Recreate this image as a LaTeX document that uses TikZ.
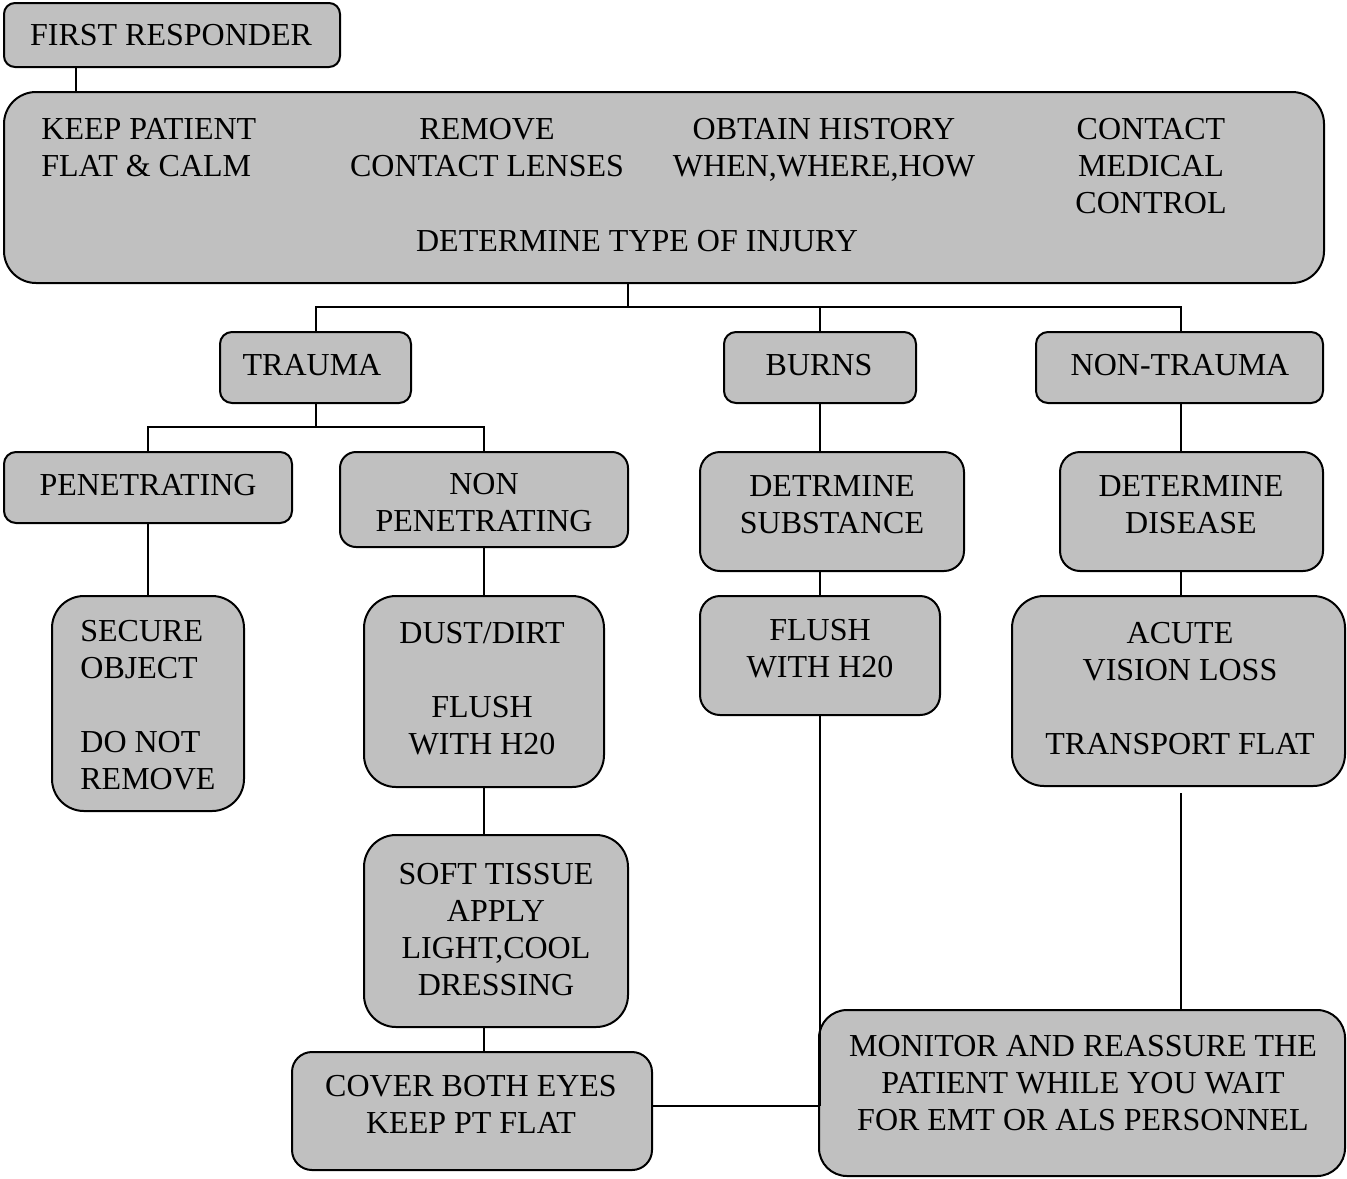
\documentclass[tikz,border=0pt]{standalone}
\usepackage{fontspec}
\setmainfont{Liberation Serif}
\definecolor{boxgray}{HTML}{C0C0C0}
\tikzset{
  box/.style={draw=black, fill=boxgray, line width=1pt, inner sep=0pt},
  txt/.style={inner sep=0pt, font=\fontsize{16}{18.5}\selectfont, align=center},
  conn/.style={draw=black, line width=1pt},
}
\newcommand\mybox[6]{\node[box, minimum width={(#4-#2)*0.5pt}, minimum height={(#5-#3)*0.5pt}, rounded corners={#6*0.5pt}] (#1) at ({(#2+#4)/2},{(#3+#5)/2}) {};}
\begin{document}
\begin{tikzpicture}[x=0.5pt,y=-0.5pt]
\useasboundingbox (0,0) rectangle (1347,1178);
% boxes
\mybox{fr}{4}{3}{340}{67}{11}
\mybox{big}{4}{92}{1324}{283}{32}
\mybox{trauma}{220}{332}{411}{403}{12}
\mybox{burns}{724}{332}{916}{403}{12}
\mybox{nontrauma}{1036}{332}{1323}{403}{12}
\mybox{pen}{4}{452}{292}{523}{12}
\mybox{nonpen}{340}{452}{628}{547}{16}
\mybox{detsub}{700}{452}{964}{571}{20}
\mybox{detdis}{1060}{452}{1323}{571}{20}
\mybox{secure}{52}{596}{244}{811}{32}
\mybox{dust}{364}{596}{604}{787}{32}
\mybox{flush}{700}{596}{940}{715}{20}
\mybox{acute}{1012}{596}{1345}{786}{32}
\mybox{soft}{364}{835}{628}{1027}{32}
\mybox{cover}{292}{1052}{652}{1170}{20}
\mybox{monitor}{819}{1010}{1345}{1176}{28}
% texts
\node[txt] (t-fr) at (171,35) {FIRST RESPONDER};
\node[txt, align=left, anchor=west] (t-keep) at (41,147.5) {KEEP PATIENT\\FLAT \& CALM};
\node[txt] (t-remove) at (487,147.5) {REMOVE\\CONTACT LENSES};
\node[txt] (t-hist) at (824,149.5) {OBTAIN HISTORY\\WHEN,WHERE,HOW};
\node[txt] (t-contact) at (1151,166.5) {CONTACT\\MEDICAL\\CONTROL};
\node[txt] (t-det) at (637,241) {DETERMINE TYPE OF INJURY};
\node[txt] (t-trauma) at (312,365) {TRAUMA};
\node[txt] (t-burns) at (819,365) {BURNS};
\node[txt] (t-nontrauma) at (1180,365) {NON-TRAUMA};
\node[txt] (t-pen) at (148,485) {PENETRATING};
\node[txt] (t-nonpen) at (484,503) {NON\\PENETRATING};
\node[txt] (t-detsub) at (832,504.5) {DETRMINE\\SUBSTANCE};
\node[txt] (t-detdis) at (1191,504.5) {DETERMINE\\DISEASE};
\node[txt, align=left, anchor=west] (t-secure) at (80,705.5) {SECURE\\OBJECT\\[18.5pt]DO NOT\\REMOVE};
\node[txt] (t-dust) at (482,688.5) {DUST/DIRT\\[18.5pt]FLUSH\\WITH H20};
\node[txt] (t-flush) at (820,648.5) {FLUSH\\WITH H20};
\node[txt] (t-acute) at (1180,688.5) {ACUTE\\VISION LOSS\\[18.5pt]TRANSPORT FLAT};
\node[txt] (t-soft) at (496,930) {SOFT TISSUE\\APPLY\\LIGHT,COOL\\DRESSING};
\node[txt] (t-cover) at (471,1104.5) {COVER BOTH EYES\\KEEP PT FLAT};
\node[txt] (t-monitor) at (1083,1083) {MONITOR AND REASSURE THE\\PATIENT WHILE YOU WAIT\\FOR EMT OR ALS PERSONNEL};
% connector helper coordinates
\coordinate (c-fr) at (76,0);
\coordinate (j1) at (628,307);
\coordinate (j2) at (316,427);
\coordinate (col1) at (484,0);
\coordinate (col2) at (1181,0);
\coordinate (col3) at (820,0);
\coordinate (a1) at (1181,793);
\coordinate (j3) at (820,1106);
% connectors
\draw[conn] (c-fr |- fr.south) -- (c-fr |- big.north);
\draw[conn] (j1 |- big.south) -- (j1);
\draw[conn] (trauma.north) |- (j1) -| (col2 |- nontrauma.north);
\draw[conn] (j1 -| burns.north) -- (burns.north);
\draw[conn] (trauma.south -| j2) -- (j2);
\draw[conn] (pen.north) |- (j2) -| (nonpen.north);
\draw[conn] (pen.south) -- (secure.north);
\draw[conn] (nonpen.south) -- (col1 |- dust.north);
\draw[conn] (col1 |- dust.south) -- (col1 |- soft.north);
\draw[conn] (col1 |- soft.south) -- (col1 |- cover.north);
\draw[conn] (col3 |- burns.south) -- (col3 |- detsub.north);
\draw[conn] (col3 |- detsub.south) -- (col3 |- flush.north);
\draw[conn] (col2 |- nontrauma.south) -- (col2 |- detdis.north);
\draw[conn] (col2 |- detdis.south) -- (col2 |- acute.north);
\draw[conn] (a1) -- (a1 |- monitor.north);
\draw[conn] (col3 |- flush.south) -- (j3);
\draw[conn] (cover.east |- j3) -- (j3);
\end{tikzpicture}
\end{document}
